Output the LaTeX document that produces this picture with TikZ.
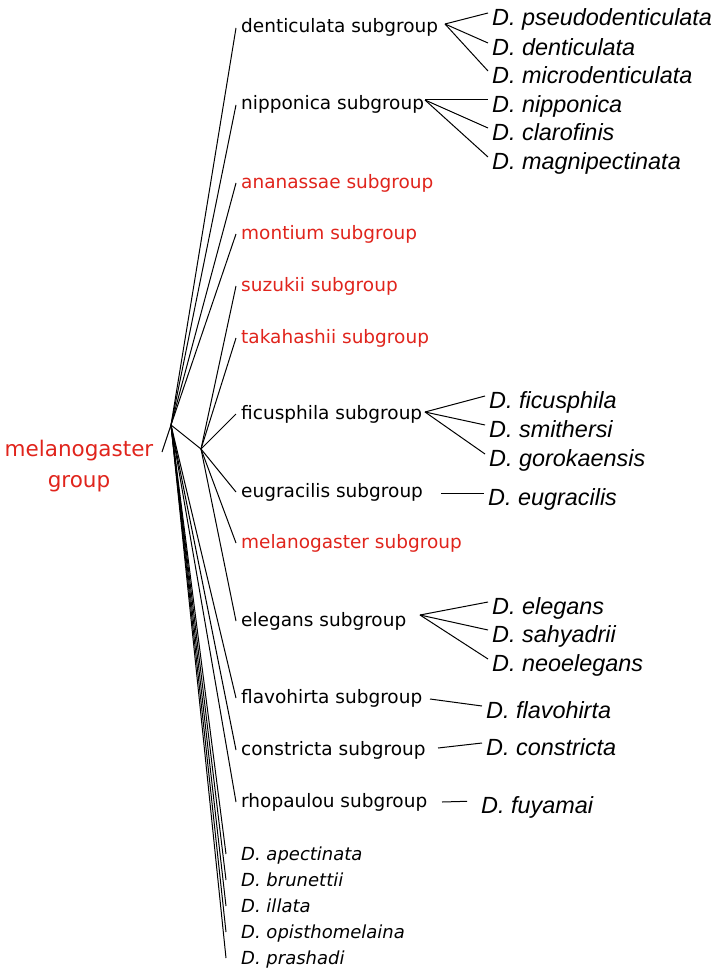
\documentclass[tikz,border=0pt]{standalone}
\usepackage{fontspec}
\setmainfont{DejaVu Sans}
\newfontfamily\spfont{Liberation Sans}
\usepackage{tikz}
\definecolor{grpred}{RGB}{224,36,28}

\begin{document}
\begin{tikzpicture}[x=1pt,y=-1pt]
\tikzstyle{every node}+=[inner sep=0pt]
\tikzstyle{sub}=[anchor=west,inner xsep=5pt,text height=10pt,text depth=0pt,font=\fontsize{18.5}{22}\selectfont]
\tikzstyle{redsub}=[sub,text=grpred]
\tikzstyle{sp}=[anchor=west,inner xsep=4pt,text height=25pt,text depth=0pt,font=\spfont\itshape\fontsize{23.4}{28}\selectfont]
\tikzstyle{lowsp}=[anchor=west,inner xsep=15pt,text height=13pt,text depth=0pt,font=\itshape\fontsize{18}{22}\selectfont]
\tikzstyle{br}=[black,line width=1pt]
\useasboundingbox (0,0) rectangle (717,971);
\node (grp) [text=grpred,align=center,font=\fontsize{21.5}{30.7}\selectfont] at (79,466) {melanogaster\\group};
\coordinate (root) at (171,425);
\coordinate (hub) at (201,449);
\coordinate (stem) at (162,452);
\node (dent) [sub] at (236,28) {denticulata subgroup};
\node (nipp) [sub] at (236,105) {nipponica subgroup};
\node (anan) [redsub] at (236,183) {ananassae subgroup};
\node (mont) [redsub] at (236,234) {montium subgroup};
\node (suzu) [redsub] at (236,286) {suzukii subgroup};
\node (taka) [redsub] at (236,338) {takahashii subgroup};
\node (ficu) [sub] at (236,414) {ficusphila subgroup};
\node (eugr) [sub] at (236,492) {eugracilis subgroup};
\node (mela) [redsub] at (236,543) {melanogaster subgroup};
\node (eleg) [sub] at (236,621) {elegans subgroup};
\node (flav) [sub] at (236,698) {flavohirta subgroup};
\node (cons) [sub] at (236,750) {constricta subgroup};
\node (rhop) [sub] at (236,802) {rhopaulou subgroup};
\node (apec) [lowsp] at (226,854) {D. apectinata};
\node (brun) [lowsp] at (226,880) {D. brunettii};
\node (illa) [lowsp] at (226,906) {D. illata};
\node (opis) [lowsp] at (226,932) {D. opisthomelaina};
\node (pras) [lowsp] at (226,958) {D. prashadi};
\coordinate (dfan) at (445,24);
\coordinate (nfan) at (425,100);
\coordinate (ffan) at (425,412);
\coordinate (efan) at (420,615);
\coordinate (ugo) at (441,493);
\coordinate (flgo) at (430,699);
\coordinate (cngo) at (438,748);
\coordinate (rhgo) at (442,802);
\node (pseu) [sp] at (488,13) {D. pseudodenticulata};
\node (dden) [sp] at (488,43) {D. denticulata};
\node (micr) [sp] at (488,71) {D. microdenticulata};
\node (nipo) [sp] at (488,100) {D. nipponica};
\node (clar) [sp] at (488,128) {D. clarofinis};
\node (magn) [sp] at (488,157) {D. magnipectinata};
\node (fics) [sp] at (485,396) {D. ficusphila};
\node (smit) [sp] at (485,425) {D. smithersi};
\node (goro) [sp] at (485,454) {D. gorokaensis};
\node (eugs) [sp] at (484,493) {D. eugracilis};
\node (eles) [sp] at (488,602) {D. elegans};
\node (sahy) [sp] at (488,630) {D. sahyadrii};
\node (neoe) [sp] at (488,659) {D. neoelegans};
\node (flas) [sp] at (482,706) {D. flavohirta};
\node (cnss) [sp] at (482,743) {D. constricta};
\node (fuya) [sp] at (477,801) {D. fuyamai};
\draw [br] (root) -- (stem);
\draw [br] (root) -- (hub);
\draw [br] (root) -- (dent.west);
\draw [br] (root) -- (nipp.west);
\draw [br] (root) -- (anan.west);
\draw [br] (root) -- (mont.west);
\draw [br] (hub) -- (suzu.west);
\draw [br] (hub) -- (taka.west);
\draw [br] (hub) -- (ficu.west);
\draw [br] (hub) -- (eugr.west);
\draw [br] (hub) -- (mela.west);
\draw [br] (hub) -- (eleg.west);
\draw [br] (root) -- (flav.west);
\draw [br] (root) -- (cons.west);
\draw [br] (root) -- (rhop.west);
\draw [br] (root) -- (apec.west);
\draw [br] (root) -- (brun.west);
\draw [br] (root) -- (illa.west);
\draw [br] (root) -- (opis.west);
\draw [br] (root) -- (pras.west);
\draw [br] (dfan) -- (pseu.west);
\draw [br] (dfan) -- (dden.west);
\draw [br] (dfan) -- (micr.west);
\draw [br] (nfan) -- (nipo.west);
\draw [br] (nfan) -- (clar.west);
\draw [br] (nfan) -- (magn.west);
\draw [br] (ffan) -- (fics.west);
\draw [br] (ffan) -- (smit.west);
\draw [br] (ffan) -- (goro.west);
\draw [br] (ugo) -- (eugs.west);
\draw [br] (efan) -- (eles.west);
\draw [br] (efan) -- (sahy.west);
\draw [br] (efan) -- (neoe.west);
\draw [br] (flgo) -- (flas.west);
\draw [br] (cngo) -- (cnss.west);
\draw [br,shorten >=10pt] (rhgo) -- (fuya.west);
\end{tikzpicture}
\end{document}
